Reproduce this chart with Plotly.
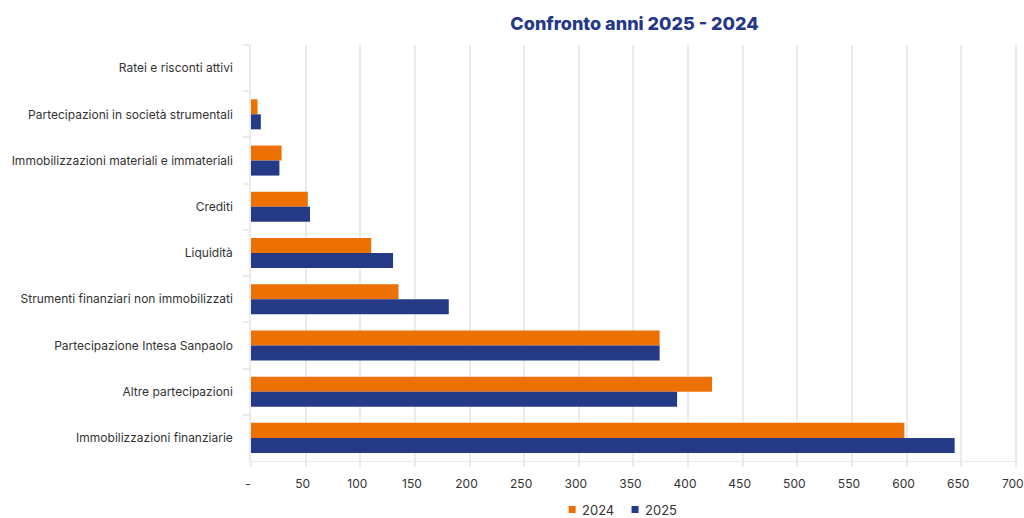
import plotly.graph_objects as go

# Categories listed top to bottom as they appear on the chart
categories = [
    "Ratei e risconti attivi",
    "Partecipazioni in società strumentali",
    "Immobilizzazioni materiali e immateriali",
    "Crediti",
    "Liquidità",
    "Strumenti finanziari non immobilizzati",
    "Partecipazione Intesa Sanpaolo",
    "Altre partecipazioni",
    "Immobilizzazioni finanziarie",
]
values_2024 = [0, 6, 28, 52, 110, 135, 374, 422, 598]
values_2025 = [0, 9, 26, 54, 130, 181, 374, 390, 644]
series_names = ["2024", "2025"]

tick_values = [0, 50, 100, 150, 200, 250, 300, 350, 400, 450, 500, 550, 600, 650, 700]
tick_labels = ["-", "50", "100", "150", "200", "250", "300", "350", "400",
               "450", "500", "550", "600", "650", "700"]

ORANGE = "#EC7003"
BLUE = "#243A86"
GRID = "#EBEBEB"
FONT = "Inter, Roboto, sans-serif"
colors = [ORANGE, BLUE]

fig = go.Figure()
for name, vals, col in zip(series_names, [values_2024, values_2025], colors):
    fig.add_trace(go.Bar(y=categories, x=vals, name=name, orientation="h",
                         marker=dict(color=col, line=dict(width=0)),
                         showlegend=False))

# Compact legend below the plot: small square swatch followed by the year
legend_y = -0.1166
legend_items = [(0.4187, 0.4301), (0.5007, 0.5121)]  # (swatch centre, label start) in paper x
for (sx, tx), name, col in zip(legend_items, series_names, colors):
    fig.add_shape(type="rect", xref="paper", yref="paper",
                  xsizemode="pixel", ysizemode="pixel",
                  xanchor=sx, yanchor=legend_y, x0=-3.5, x1=3.5, y0=-3.5, y1=3.5,
                  fillcolor=col, line=dict(width=0))
    fig.add_annotation(text=name, xref="paper", yref="paper", x=tx, y=legend_y,
                       xanchor="left", yanchor="middle", showarrow=False,
                       font=dict(family=FONT, size=13, color="#333333"),
                       borderpad=0)

fig.update_layout(
    width=1024, height=518,
    margin=dict(l=251, r=6, t=45, b=57, autoexpand=False),
    paper_bgcolor="white", plot_bgcolor="white",
    barmode="group", bargap=0.35, bargroupgap=0,
    font=dict(family=FONT, size=12, color="#333333"),
    showlegend=False,
    title=dict(text="Confronto anni 2025 - 2024",
               font=dict(family=FONT, size=18, color="#25378A", weight=800),
               x=0.5, xref="paper", xanchor="center",
               y=0.955, yref="container", yanchor="middle"),
    xaxis=dict(range=[0, 702], tickvals=tick_values, ticktext=tick_labels,
               showgrid=True, gridcolor=GRID, gridwidth=1.5,
               zeroline=False, showline=True, linecolor=GRID, linewidth=1,
               ticks="outside", ticklen=5, tickcolor=GRID, tickwidth=1.5,
               ticklabelstandoff=7, ticklabelshift=-3,
               ticklabeloverflow="allow", fixedrange=True),
    yaxis=dict(autorange="reversed", type="category",
               showgrid=False, zeroline=False,
               showline=True, linecolor=GRID, linewidth=1.5,
               ticks="outside", tickson="boundaries", ticklen=6,
               tickcolor=GRID, tickwidth=1.5, ticklabelstandoff=14,
               fixedrange=True),
)

fig.write_html("out.html")
